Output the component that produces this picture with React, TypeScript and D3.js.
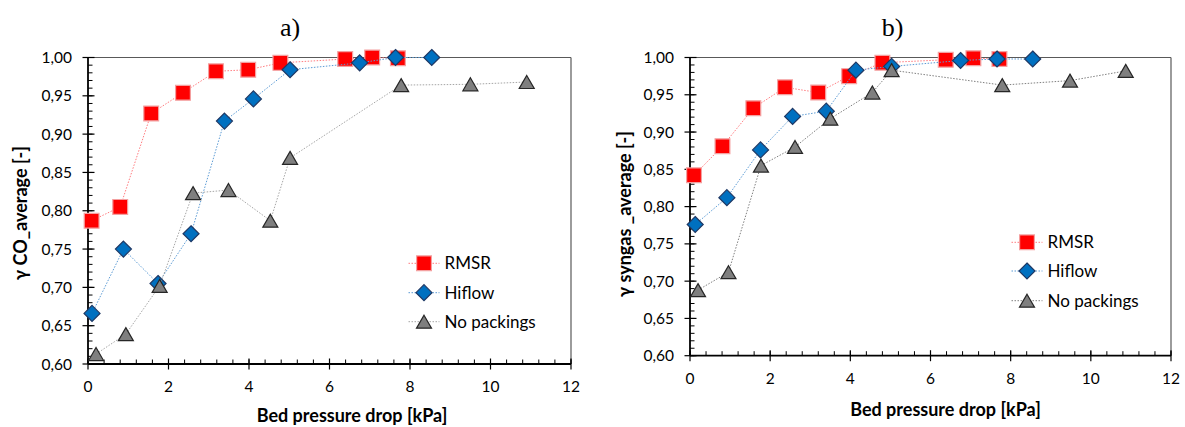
import React from "react";
import * as d3 from "d3";

// ---- data ----
const xTickValues = [0, 2, 4, 6, 8, 10, 12];
const yTickValues = [0.6, 0.65, 0.7, 0.75, 0.8, 0.85, 0.9, 0.95, 1.0];
const seriesNames = ["RMSR", "Hiflow", "No packings"];

// a) CO
const coRmsrX = [0.09, 0.8, 1.57, 2.36, 3.18, 3.98, 4.78, 6.39, 7.06, 7.7];
const coRmsrY = [0.787, 0.805, 0.927, 0.954, 0.982, 0.984, 0.993, 0.998, 1.0, 0.999];
const coHiflowX = [0.1, 0.88, 1.74, 2.56, 3.39, 4.11, 5.02, 6.75, 7.64, 8.54];
const coHiflowY = [0.666, 0.75, 0.705, 0.77, 0.917, 0.946, 0.984, 0.993, 1.0, 1.0];
const coNoPackX = [0.2, 0.94, 1.78, 2.61, 3.49, 4.53, 5.02, 7.78, 9.5, 10.9];
const coNoPackY = [0.613, 0.639, 0.702, 0.823, 0.827, 0.787, 0.869, 0.964, 0.965, 0.968];

// b) syngas
const syRmsrX = [0.1, 0.81, 1.58, 2.37, 3.2, 3.97, 4.8, 6.38, 7.07, 7.72];
const syRmsrY = [0.842, 0.881, 0.932, 0.96, 0.953, 0.975, 0.993, 0.997, 0.999, 0.998];
const syHiflowX = [0.13, 0.92, 1.76, 2.56, 3.4, 4.14, 5.03, 6.75, 7.66, 8.55];
const syHiflowY = [0.776, 0.812, 0.876, 0.921, 0.928, 0.983, 0.988, 0.996, 0.998, 0.998];
const syNoPackX = [0.2, 0.96, 1.77, 2.62, 3.5, 4.55, 5.03, 7.79, 9.48, 10.87];
const syNoPackY = [0.688, 0.712, 0.855, 0.88, 0.918, 0.953, 0.983, 0.963, 0.969, 0.982];

const W = 1185;
const H = 427;
const FONT = "Lato, 'Open Sans', sans-serif";

const locale = d3.formatLocale({ decimal: ",", thousands: ".", grouping: [3], currency: ["", ""] });
const fmtY = locale.format(".2f");

type MarkerKind = "square" | "diamond" | "triangle";

interface SeriesDef {
  name: string;
  xs: number[];
  ys: number[];
  marker: MarkerKind;
  fill: string;
  stroke: string;
  line: string;
}

function markerPath(kind: MarkerKind, cx: number, cy: number): string {
  const p = d3.path();
  if (kind === "square") {
    const s = 7.4;
    p.rect(cx - s, cy - s, 2 * s, 2 * s);
  } else if (kind === "diamond") {
    const s = 8;
    p.moveTo(cx, cy - s);
    p.lineTo(cx + s, cy);
    p.lineTo(cx, cy + s);
    p.lineTo(cx - s, cy);
    p.closePath();
  } else {
    const hw = 7.5;
    const hh = 6.5;
    p.moveTo(cx, cy - hh);
    p.lineTo(cx + hw, cy + hh);
    p.lineTo(cx - hw, cy + hh);
    p.closePath();
  }
  return p.toString();
}

interface PanelProps {
  title: string;
  titleX: number;
  yLabel: string;
  yLabelX: number;
  yLabelY: number;
  xLabelX: number;
  xLabelY: number;
  left: number;
  right: number;
  top: number;
  bottom: number;
  series: SeriesDef[];
  legendLineX0: number;
  legendRowsY: number[];
}

function Panel(props: PanelProps) {
  const { title, titleX, yLabel, yLabelX, yLabelY, xLabelX, xLabelY, left, right, top, bottom, series, legendLineX0, legendRowsY } = props;
  const x = d3.scaleLinear().domain([0, 12]).range([left, right]);
  const y = d3.scaleLinear().domain([0.6, 1.0]).range([bottom, top]);
  const xMinor = d3.range(0, 31).map((i) => i * 0.4);
  const yMinor = d3.range(60, 101).map((i) => i / 100);
  const line = d3
    .line<[number, number]>()
    .x((d) => x(d[0]))
    .y((d) => y(d[1]));

  return (
    <g>
      <text x={titleX} y={36} fontFamily="'Liberation Serif', 'Times New Roman', serif" fontSize={26} textAnchor="middle" fill="#000">
        {title}
      </text>
      {/* frame: top and right */}
      <line x1={left} x2={right} y1={top} y2={top} stroke="#595959" strokeWidth={1.2} />
      <line x1={right} x2={right} y1={top} y2={bottom} stroke="#595959" strokeWidth={1.2} />
      {/* minor ticks */}
      {yMinor.map((v, i) => (
        <line key={"ym" + i} x1={left} x2={left + 4.5} y1={y(v)} y2={y(v)} stroke="#000" strokeWidth={1} />
      ))}
      {xMinor.map((v, i) => (
        <line key={"xm" + i} x1={x(v)} x2={x(v)} y1={bottom} y2={bottom - 4.5} stroke="#000" strokeWidth={1} />
      ))}
      {/* major ticks */}
      {yTickValues.map((v, i) => (
        <g key={"yt" + i}>
          <line x1={left - 5.5} x2={left + 6.5} y1={y(v)} y2={y(v)} stroke="#000" strokeWidth={1.2} />
          <text x={left - 16} y={y(v) + 5.5} fontFamily={FONT} fontSize={15.5} textAnchor="end" fill="#000">
            {fmtY(v)}
          </text>
        </g>
      ))}
      {xTickValues.map((v, i) => (
        <g key={"xt" + i}>
          <line x1={x(v)} x2={x(v)} y1={bottom - 5.5} y2={bottom + 5.5} stroke="#000" strokeWidth={1.2} />
          <text x={x(v)} y={bottom + 28} fontFamily={FONT} fontSize={15.5} textAnchor="middle" fill="#000">
            {v}
          </text>
        </g>
      ))}
      {/* axes */}
      <line x1={left} x2={left} y1={top} y2={bottom} stroke="#000" strokeWidth={1.8} />
      <line x1={left} x2={right} y1={bottom} y2={bottom} stroke="#000" strokeWidth={1.8} />
      {/* series */}
      {series.map((s, si) => {
        const pts: [number, number][] = s.xs.map((xv, i) => [xv, s.ys[i]]);
        return (
          <g key={"s" + si}>
            <path d={line(pts) || ""} fill="none" stroke={s.line} strokeWidth={1} strokeDasharray="1.5 1.5" />
            {pts.map((p, i) => (
              <path key={i} d={markerPath(s.marker, x(p[0]), y(p[1]))} fill={s.fill} stroke={s.stroke} strokeWidth={1.2} />
            ))}
          </g>
        );
      })}
      {/* legend */}
      {series.map((s, si) => {
        const ly = legendRowsY[si];
        const cx = legendLineX0 + 15.5;
        return (
          <g key={"lg" + si}>
            <line x1={legendLineX0} x2={legendLineX0 + 31} y1={ly} y2={ly} stroke={s.line} strokeWidth={1} strokeDasharray="1.5 1.5" />
            <path d={markerPath(s.marker, cx, ly)} fill={s.fill} stroke={s.stroke} strokeWidth={1.2} />
            <text x={legendLineX0 + 36} y={ly + 6} fontFamily={FONT} fontSize={17} fill="#000">
              {s.name}
            </text>
          </g>
        );
      })}
      {/* axis titles */}
      <text x={xLabelX} y={xLabelY} fontFamily={FONT} fontWeight="bold" fontSize={18} textAnchor="middle" fill="#000">
        Bed pressure drop [kPa]
      </text>
      <text
        transform={`translate(${yLabelX},${yLabelY}) rotate(-90)`}
        fontFamily={FONT}
        fontWeight="bold"
        fontSize={18}
        textAnchor="middle"
        fill="#000"
      >
        {yLabel}
      </text>
    </g>
  );
}

function makeSeries(
  rx: number[], ry: number[], hx: number[], hy: number[], nx: number[], ny: number[], grayLine: string
): SeriesDef[] {
  return [
    { name: seriesNames[0], xs: rx, ys: ry, marker: "square", fill: "#ff0000", stroke: "#f4a0a0", line: "#ff7c80" },
    { name: seriesNames[1], xs: hx, ys: hy, marker: "diamond", fill: "#0070c0", stroke: "#1f3864", line: "#5b9bd5" },
    { name: seriesNames[2], xs: nx, ys: ny, marker: "triangle", fill: "#7f7f7f", stroke: "#262626", line: grayLine },
  ];
}

export default function App() {
  const coSeries = makeSeries(coRmsrX, coRmsrY, coHiflowX, coHiflowY, coNoPackX, coNoPackY, "#a6a6a6");
  const sySeries = makeSeries(syRmsrX, syRmsrY, syHiflowX, syHiflowY, syNoPackX, syNoPackY, "#808080");
  return (
    <svg width={W} height={H} style={{ position: "absolute", left: 0, top: 0, background: "#fff" }}>
      <rect x={0} y={0} width={W} height={H} fill="#fff" />
      <Panel
        title="a)"
        titleX={290}
        yLabel="γ CO_average [-]"
        yLabelX={27}
        yLabelY={213}
        xLabelX={352}
        xLabelY={422}
        left={88}
        right={571}
        top={57.5}
        bottom={364}
        series={coSeries}
        legendLineX0={408.5}
        legendRowsY={[263.3, 292.7, 321.7]}
      />
      <Panel
        title="b)"
        titleX={892.5}
        yLabel="γ syngas _average [-]"
        yLabelX={631}
        yLabelY={214}
        xLabelX={945.5}
        xLabelY={416}
        left={690}
        right={1171}
        top={57.5}
        bottom={355.7}
        series={sySeries}
        legendLineX0={1011.5}
        legendRowsY={[242.3, 271, 300.7]}
      />
    </svg>
  );
}
